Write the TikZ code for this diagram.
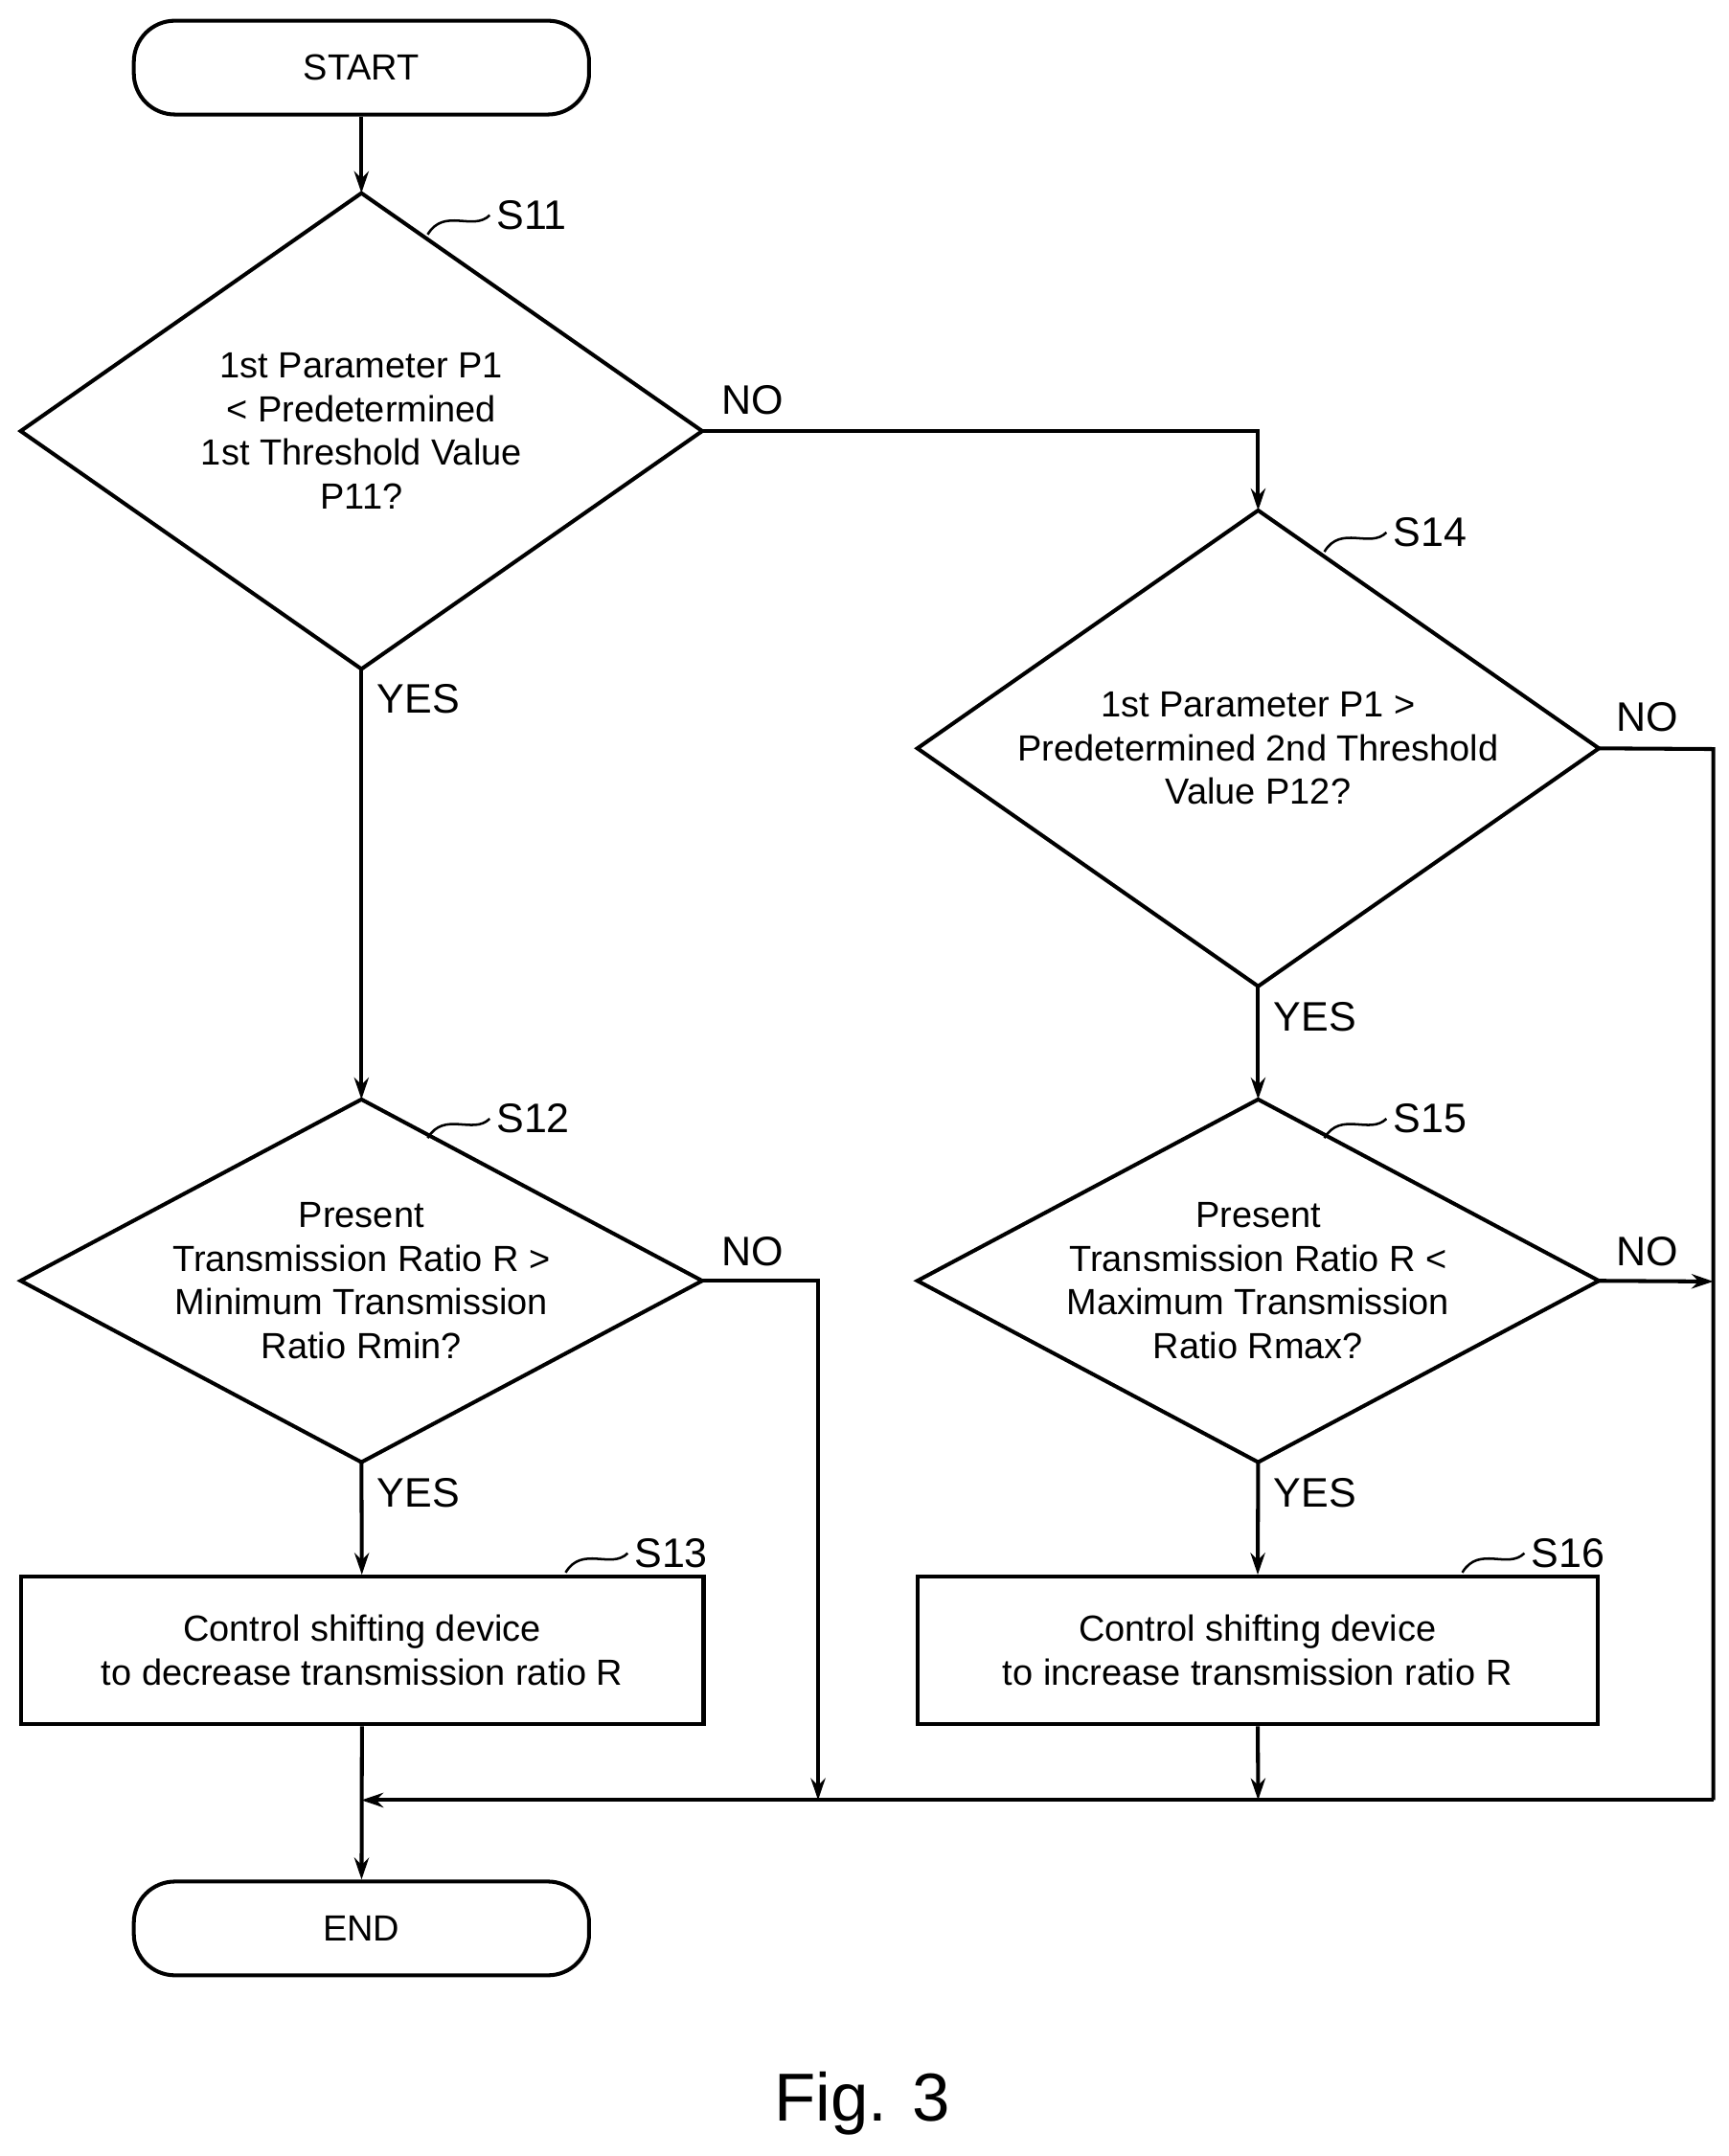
\documentclass[tikz,border=0pt]{standalone}
\usepackage{fontspec}
\setmainfont{Liberation Sans}
\usetikzlibrary{arrows.meta}
\begin{document}
\begin{tikzpicture}[x=0.02cm,y=-0.02cm,line width=1.6pt,
  txt/.style={font=\fontsize{15}{18}\selectfont,align=center,inner sep=0},
  lab/.style={font=\fontsize{17}{20}\selectfont,anchor=west,inner sep=0},
  arr/.style={-{Stealth[length=9pt,width=6pt,open]}},
  term/.style={draw,rounded corners=17pt,minimum width=330*0.02cm,minimum height=68*0.02cm,font=\fontsize{15}{18}\selectfont}]
\useasboundingbox (0,0) rectangle (1253,1563);
\node[term] (start) at (262,49) {START};
\node[term] (end) at (262,1398) {END};
% diamonds
\newcommand{\mydiamond}[6]{%
 \coordinate (#1t) at (#2,#3); \coordinate (#1b) at (#2,#4);
 \coordinate (#1l) at (#2-#5,{(#3+#4)/2}); \coordinate (#1r) at (#2+#5,{(#3+#4)/2});
 \draw (#1t)--(#1r)--(#1b)--(#1l)--cycle;
 \node[txt] (#1) at (#2,{(#3+#4)/2}) {#6};}
\mydiamond{a}{262}{140}{485}{247}{1st Parameter P1\\< Predetermined\\1st Threshold Value\\P11?}
\mydiamond{d}{912}{370}{715}{247}{1st Parameter P1 >\\Predetermined 2nd Threshold\\Value P12?}
\mydiamond{b}{262}{797}{1060}{247}{Present\\Transmission Ratio R >\\Minimum Transmission\\Ratio Rmin?}
\mydiamond{e}{912}{797}{1060}{247}{Present\\Transmission Ratio R <\\Maximum Transmission\\Ratio Rmax?}
\node[draw,minimum width=495*0.02cm,minimum height=107*0.02cm,txt] (c) at (262.5,1196.5) {Control shifting device\\to decrease transmission ratio R};
\node[draw,minimum width=493*0.02cm,minimum height=107*0.02cm,txt] (f) at (911.5,1196.5) {Control shifting device\\to increase transmission ratio R};
% step labels
\foreach \n/\x/\y/\s in {at/310/170/S11,dt/960/400/S14,bt/310/825/S12,et/960/825/S15,c/410/1140/S13,f/1060/1140/S16}{
 \coordinate (L\s) at (\x,\y);
 \draw[line width=1pt] (L\s) .. controls +(12,-20) and +(-12,12) .. ++(45,-14) coordinate (M\s);
 \node[lab] at ([xshift=2pt]M\s) {\s};}
% connectors
\coordinate (j1) at (262,1305); \coordinate (j2) at (593,1305); \coordinate (j3) at (912,1305);
\coordinate (rr) at (1242,543); \coordinate (rb) at (1242,1305); \coordinate (re) at (1242,929);
\draw[arr] (start) -- (at);
\draw[arr] (ab) -- (bt);
\draw[arr] (ar) -| (dt);
\draw[arr] (db) -- (et);
\draw[arr] (bb) -- (c);
\draw[arr] (eb) -- (f);
\draw[arr] (c) -- (end);
\draw[arr] (br) -| (j2);
\draw[arr] (f) -- (j3);
\draw (dr) -- (rr) -- (rb);
\draw[arr] (rb) -- (j1);
\draw[arr] (er) -- (re);
% yes/no
\node[lab] at (522,290) {NO};
\node[lab] at (272,507) {YES};
\node[lab] at (1170,520) {NO};
\node[lab] at (922,737) {YES};
\node[lab] at (522,907) {NO};
\node[lab] at (1170,907) {NO};
\node[lab] at (272,1082) {YES};
\node[lab] at (922,1082) {YES};
\node[font=\fontsize{28}{32}\selectfont] (fig) at (625,1525) {Fig. 3};
\end{tikzpicture}
\end{document}
